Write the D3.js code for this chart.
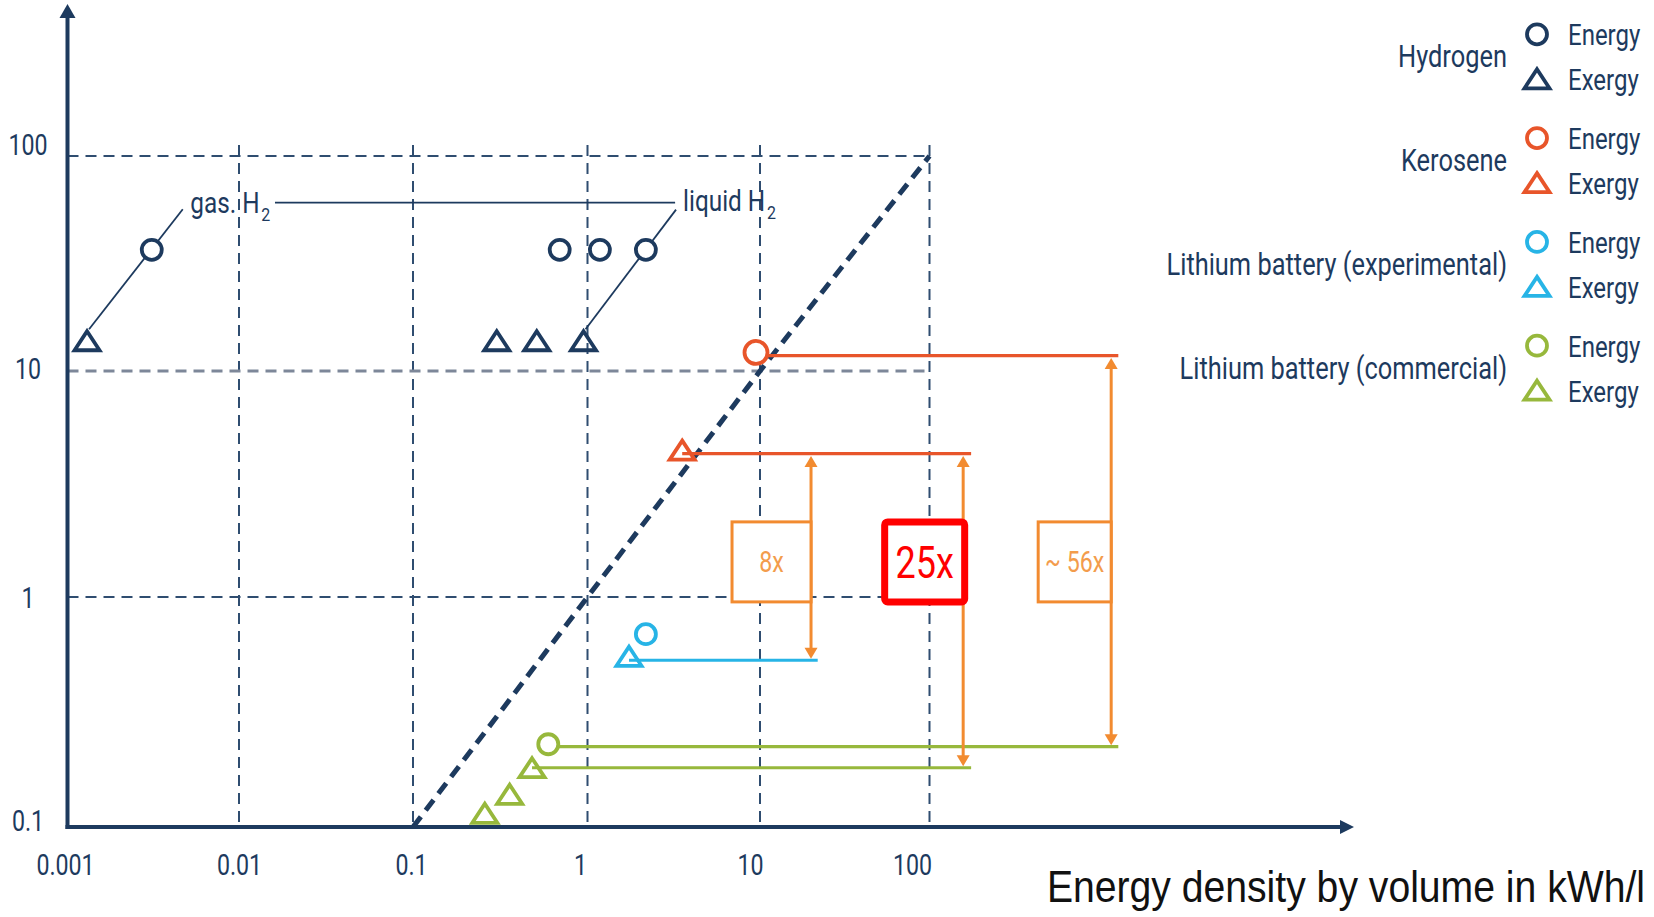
<!DOCTYPE html>
<html>
<head>
<meta charset="utf-8">
<script src="https://cdn.jsdelivr.net/npm/d3@7"></script>
<style>
  html, body { margin: 0; padding: 0; background: #fff; }
  svg { display: block; font-family: Roboto, "Liberation Sans", sans-serif; }
</style>
</head>
<body>
<svg id="chart" width="1654" height="917"></svg>
<script>
// ---- axis ticks ----
const xTicks = [0.001, 0.01, 0.1, 1, 10, 100];
const xTickLabels = ["0.001", "0.01", "0.1", "1", "10", "100"];
const yTicks = [0.1, 1, 10, 100];
const yTickLabels = ["0.1", "1", "10", "100"];
const xTitle = "Energy density by volume in kWh/l";

// ---- legend ----
const carriers = ["Hydrogen", "Kerosene", "Lithium battery (experimental)", "Lithium battery (commercial)"];
const measures = ["Energy", "Exergy"];

// ---- energy densities: x = kWh/l, y = kWh/kg ----
const hydrogenEnergyX = [0.0031, 0.693, 1.18, 2.18];
const hydrogenEnergyY = [36.6, 36.6, 36.6, 36.6];
const hydrogenExergyX = [0.0013, 0.302, 0.512, 0.949];
const hydrogenExergyY = [13.9, 13.9, 13.9, 13.9];
const keroseneEnergyX = [9.48];
const keroseneEnergyY = [12.2];
const keroseneExergyX = [3.54];
const keroseneExergyY = [4.49];
const liExpEnergyX = [2.18];
const liExpEnergyY = [0.689];
const liExpExergyX = [1.74];
const liExpExergyY = [0.555];
const liComEnergyX = [0.596];
const liComEnergyY = [0.229];
const liComExergyX = [0.481, 0.358, 0.258];
const liComExergyY = [0.182, 0.1394, 0.1153];

// ---- comparison levels (kWh/kg) drawn as horizontal rules ----
const levelValues = [11.8, 4.31, 0.531, 0.2234, 0.181];
const levelFromX  = [9.48, 3.54, 1.74, 0.596, 0.481];
const levelToX    = [1300, 176, 21.9, 1300, 176];
const levelCarrier = [1, 1, 2, 3, 3];

// ---- ratio arrows between levels ----
const ratioLabels = ["8x", "25x", "~ 56x"];
const ratioUpper  = [4.31, 4.31, 11.8];
const ratioLower  = [0.531, 0.181, 0.2234];
const ratioAtX    = [20, 158, 1180];

// ---- hydrogen storage annotations ----
const h2Labels   = ["gas. H", "liquid H"];
const h2LabelX   = [0.0052, 3.58];
const h2LabelY   = [54.1, 55.7];
const h2LeaderFromX = [0.0013, 0.949];
const h2LeaderFromY = [13.9, 13.9];
const h2LeaderToX   = [0.0047, 3.26];
const h2LeaderToY   = [56.5, 56.3];
const h2BracketX = [0.0161, 3.22];
const h2BracketY = 60.7;

// ---------------------------------------------------------------
const navy = "#1d3a5e";
const palette = ["#1d3a5e", "#e8552a", "#27b4e6", "#97b83c"];
const arrowOrange = "#f28b30";

const svg = d3.select("#chart");
svg.append("rect").attr("width", 1654).attr("height", 917).attr("fill", "#fff");

const x = d3.scaleLog()
  .domain(xTicks)
  .range([67.5, 239, 413, 587.5, 760, 929.5]);
const y = d3.scaleLog()
  .domain(yTicks)
  .range([827, 597, 371, 156]);

const x0 = x(xTicks[0]);
const y0 = y(yTicks[0]);
const xMax = x(xTicks[xTicks.length - 1]);
const yMax = y(yTicks[yTicks.length - 1]);

// ---- grid ----
const grid = svg.append("g");
grid.selectAll(".vgrid").data(xTicks.slice(1)).join("line")
  .attr("x1", d => x(d)).attr("x2", d => x(d))
  .attr("y1", yMax - 11).attr("y2", y0 - 2)
  .attr("stroke", "#2f4d70").attr("stroke-width", 2)
  .attr("stroke-dasharray", "11,7");
grid.selectAll(".hgrid").data(yTicks.slice(1)).join("line")
  .attr("x1", x0).attr("x2", xMax)
  .attr("y1", d => y(d)).attr("y2", d => y(d))
  .attr("stroke", d => d === 10 ? "#7d8799" : "#2f4d70")
  .attr("stroke-width", d => d === 10 ? 3 : 2)
  .attr("stroke-dasharray", "11,7");

// ---- parity line: equal energy per litre and per kilogram ----
const parity = yTicks.map(v => [v, v]);
svg.append("path")
  .datum(parity)
  .attr("d", d3.line().x(d => x(d[0])).y(d => y(d[1])))
  .attr("fill", "none").attr("stroke", navy)
  .attr("stroke-width", 5).attr("stroke-dasharray", "13,8");

// ---- hydrogen storage annotations ----
const ann = svg.append("g");
ann.selectAll(".leader").data(h2Labels).join("line")
  .attr("x1", (d, i) => x(h2LeaderFromX[i]) + 2)
  .attr("y1", (d, i) => y(h2LeaderFromY[i]) - 11)
  .attr("x2", (d, i) => x(h2LeaderToX[i]))
  .attr("y2", (d, i) => y(h2LeaderToY[i]))
  .attr("stroke", navy).attr("stroke-width", 1.8);
ann.append("line")
  .attr("x1", x(h2BracketX[0])).attr("x2", x(h2BracketX[1]))
  .attr("y1", y(h2BracketY)).attr("y2", y(h2BracketY))
  .attr("stroke", navy).attr("stroke-width", 1.8);
const h2Text = ann.selectAll(".h2label").data(h2Labels).join("text")
  .attr("class", "h2")
  .attr("x", (d, i) => x(h2LabelX[i]))
  .attr("y", (d, i) => y(h2LabelY[i]))
  .attr("fill", navy).attr("font-size", 29);
h2Text.append("tspan").text(d => d);
h2Text.append("tspan").text("2").attr("font-size", 19).attr("dx", 2).attr("dy", 8);

// ---- comparison rules ----
svg.selectAll(".level").data(levelValues).join("line")
  .attr("x1", (d, i) => x(levelFromX[i]))
  .attr("x2", (d, i) => x(levelToX[i]))
  .attr("y1", d => y(d)).attr("y2", d => y(d))
  .attr("stroke", (d, i) => palette[levelCarrier[i]])
  .attr("stroke-width", 3.2);

// ---- ratio arrows ----
const arrows = svg.append("g");
const headLen = 11, headHalf = 6.5;
ratioLabels.forEach((lab, i) => {
  const ax = x(ratioAtX[i]);
  const top = y(ratioUpper[i]) + 2.5;
  const bot = y(ratioLower[i]) - 1.5;
  arrows.append("line")
    .attr("x1", ax).attr("x2", ax)
    .attr("y1", top + headLen - 1).attr("y2", bot - headLen + 1)
    .attr("stroke", arrowOrange).attr("stroke-width", 3);
  arrows.append("path")
    .attr("d", `M${ax},${top}L${ax - headHalf},${top + headLen}L${ax + headHalf},${top + headLen}Z`)
    .attr("fill", arrowOrange);
  arrows.append("path")
    .attr("d", `M${ax},${bot}L${ax - headHalf},${bot - headLen}L${ax + headHalf},${bot - headLen}Z`)
    .attr("fill", arrowOrange);
});

// ratio boxes (right edge on the arrow)
const boxMidY = y(1.43);
const boxW = [79, 80, 73];
ratioLabels.forEach((lab, i) => {
  const ax = x(ratioAtX[i]);
  const hi = lab === "25x";
  const g = arrows.append("g");
  if (hi) {
    g.append("rect")
      .attr("x", ax - boxW[i] + 1.5).attr("y", boxMidY - 40)
      .attr("width", boxW[i]).attr("height", 80)
      .attr("rx", 3)
      .attr("fill", "#fff").attr("stroke", "#ff0000").attr("stroke-width", 7);
    g.append("text")
      .attr("x", ax - boxW[i] / 2 + 1.5).attr("y", boxMidY + 16)
      .attr("text-anchor", "middle").attr("font-size", 45)
      .attr("fill", "#ff0000").text(lab);
  } else {
    g.append("rect")
      .attr("x", ax - boxW[i]).attr("y", boxMidY - 40)
      .attr("width", boxW[i]).attr("height", 80)
      .attr("fill", "#fff").attr("stroke", arrowOrange).attr("stroke-width", 3);
    g.append("text")
      .attr("x", ax - boxW[i] / 2).attr("y", boxMidY + 10)
      .attr("text-anchor", "middle").attr("font-size", 29)
      .attr("fill", "#f39c4c").text(lab);
  }
});

// ---- markers ----
const circleR = 10;
const triPath = "M0,-9L12.5,10L-12.5,10Z";
function drawCircles(xs, ys, ci, r) {
  svg.append("g").selectAll("circle").data(xs).join("circle")
    .attr("cx", d => x(d)).attr("cy", (d, i) => y(ys[i]))
    .attr("r", r || circleR)
    .attr("fill", "#fff").attr("stroke", palette[ci]).attr("stroke-width", 3.8);
}
function drawTriangles(xs, ys, ci) {
  svg.append("g").selectAll("path").data(xs).join("path")
    .attr("transform", (d, i) => `translate(${x(d)},${y(ys[i])})`)
    .attr("d", triPath)
    .attr("fill", "none").attr("stroke", palette[ci]).attr("stroke-width", 3.8)
    .attr("stroke-linejoin", "miter");
}
drawCircles(hydrogenEnergyX, hydrogenEnergyY, 0);
drawTriangles(hydrogenExergyX, hydrogenExergyY, 0);
drawCircles(keroseneEnergyX, keroseneEnergyY, 1, 11.5);
drawTriangles(keroseneExergyX, keroseneExergyY, 1);
drawCircles(liExpEnergyX, liExpEnergyY, 2);
drawTriangles(liExpExergyX, liExpExergyY, 2);
drawCircles(liComEnergyX, liComEnergyY, 3);
drawTriangles(liComExergyX, liComExergyY, 3);

// ---- axes ----
const xAxis = svg.append("g")
  .attr("transform", `translate(0,${y0})`)
  .call(d3.axisBottom(x).tickValues(xTicks).tickFormat((d, i) => xTickLabels[i]).tickSize(0))
  .attr("font-family", null).attr("font-size", null);
xAxis.select(".domain").remove();
const xNudge = [-2.5, 0, -2, -7.5, -10, -17.5];
xAxis.selectAll("text")
  .attr("x", (d, i) => xNudge[i]).attr("y", 48).attr("dy", 0)
  .attr("font-size", 29).attr("fill", navy);

const yAxis = svg.append("g")
  .attr("transform", `translate(${x0},0)`)
  .call(d3.axisLeft(y).tickValues(yTicks).tickFormat((d, i) => yTickLabels[i]).tickSize(0))
  .attr("font-family", null).attr("font-size", null);
yAxis.select(".domain").remove();
const yNudge = [-7, 0, -3.5, -12];
yAxis.selectAll("text")
  .attr("x", -39.5).attr("dy", (d, i) => 10.5 + yNudge[i])
  .attr("text-anchor", "middle")
  .attr("font-size", 29).attr("fill", navy);

// axis lines with arrowheads
svg.append("line").attr("x1", x0).attr("x2", x0).attr("y1", y0 + 2).attr("y2", 16)
  .attr("stroke", navy).attr("stroke-width", 4);
svg.append("path").attr("d", `M${x0},4L${x0 - 8},18L${x0 + 8},18Z`).attr("fill", navy);
svg.append("line").attr("x1", x0 - 2).attr("x2", 1342).attr("y1", y0).attr("y2", y0)
  .attr("stroke", navy).attr("stroke-width", 4);
svg.append("path").attr("d", `M1354,${y0}L1340,${y0 - 7}L1340,${y0 + 7}Z`).attr("fill", navy);

svg.append("text")
  .attr("class", "title")
  .attr("x", 1645).attr("y", 902)
  .attr("text-anchor", "end").attr("font-size", 45).attr("fill", "#111")
  .attr("font-family", "'Liberation Sans', Arial, sans-serif")
  .text(xTitle);

// ---- legend ----
const legend = svg.append("g");
carriers.forEach((name, i) => {
  const cy = 34.3 + i * 103.8;
  const g = legend.append("g");
  g.append("circle").attr("cx", 1537).attr("cy", cy).attr("r", circleR)
    .attr("fill", "none").attr("stroke", palette[i]).attr("stroke-width", 3.8);
  g.append("path").attr("transform", `translate(1537,${cy + 44})`).attr("d", triPath)
    .attr("fill", "none").attr("stroke", palette[i]).attr("stroke-width", 3.8);
  g.selectAll(".m").data(measures).join("text")
    .attr("x", 1568).attr("y", (d, j) => cy + 11 + j * 45)
    .attr("font-size", 30).attr("fill", navy).text(d => d);
  g.append("text").attr("class", "cat").attr("x", 1507).attr("y", cy + 33)
    .attr("text-anchor", "end").attr("font-size", 31).attr("fill", navy).text(name);
});

// condensed lettering: squeeze every label horizontally about its anchor
svg.selectAll("text").each(function () {
  const t = d3.select(this);
  const sx = t.classed("title") ? 0.87 : t.classed("h2") ? 0.84 : t.classed("cat") ? 0.82 : 0.8;
  const xv = +t.attr("x") || 0;
  t.attr("transform", `translate(${xv * (1 - sx)},0) scale(${sx},1)`);
});
</script>
</body>
</html>
